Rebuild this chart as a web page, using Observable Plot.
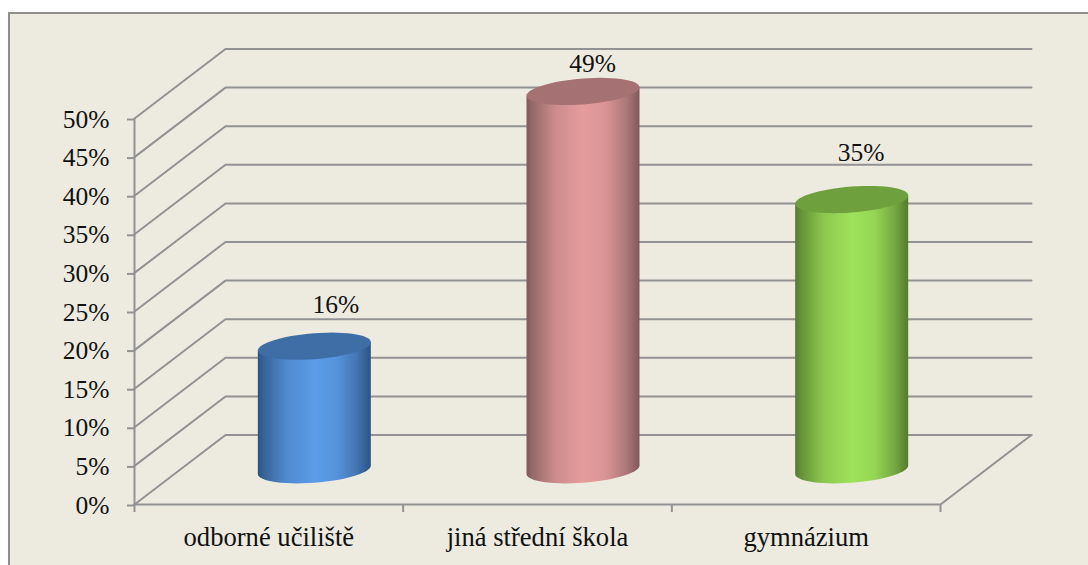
<!DOCTYPE html>
<html><head><meta charset="utf-8">
<script src="https://cdn.jsdelivr.net/npm/d3@7"></script>
<script src="https://cdn.jsdelivr.net/npm/@observablehq/plot@0.6"></script>
<style>
html,body{margin:0;padding:0;background:#fff;overflow:hidden}
#panel{position:absolute;left:8px;top:12px;width:1090px;height:570px;background:#edebe0;border:2px solid #8e8e8e;box-sizing:border-box}
#chart{position:absolute;left:0;top:0}
#chart svg{background:transparent;display:block;overflow:visible}
</style></head><body>
<div id="panel"></div><div id="chart"></div>
<script>
const categories = ["odborné učiliště", "jiná střední škola", "gymnázium"];
const values = [16, 49, 35];
const yTicks = [0, 5, 10, 15, 20, 25, 30, 35, 40, 45, 50];
const xTicks = [0, 1, 2, 3];

// oblique projection of the 3-D box: depth 0 = front edge, 1 = back wall
const depthX = 0.3387, depthY = 9;
const P = (c, v, d) => ({x: c + depthX * d, y: v + depthY * d});

const gradients = [
  {id: "g0", edge: "#2c5383", mid: "#5c9ce8", top: "#3f6ea6"},
  {id: "g1", edge: "#7f5a5b", mid: "#e69c9d", top: "#a67172"},
  {id: "g2", edge: "#557a2d", mid: "#9fe25b", top: "#6fa03e"}
];
const defs = () => {
  const d = d3.create("svg:defs");
  for (const g of gradients) {
    const lg = d.append("linearGradient").attr("id", g.id).attr("x1", 0).attr("x2", 1).attr("y1", 0).attr("y2", 0);
    const mix = d3.interpolateRgb(g.edge, g.mid);
    [[0, 0], [.05, .22], [.25, .74], [.5, 1], [.7, .88], [.88, .45], [1, 0]].forEach(([o, t]) =>
      lg.append("stop").attr("offset", o).attr("stop-color", mix(t)));
  }
  return d.node();
};

// tilted ellipse of a cylinder, in chart units
const halfW = 0.2103, shear = 0.544, minor = 1.68;
const degrees = d3.range(0, 361, 6);
const rim = (c, v, deg) => {
  const t = deg * Math.PI / 180, p = P(c, v, 0.5);
  return {x: p.x + halfW * Math.cos(t), y: p.y + shear * Math.cos(t) + minor * Math.sin(t)};
};
const bodyPath = (c, v) => [
  ...degrees.filter(d => d >= 180).map(d => rim(c, 0, d)),
  rim(c, v, 0), rim(c, v, 180)
];
const gridLine = v => [P(0, v, 0), P(0, v, 1), P(3, v, 1)];
const floorEdge = [P(0, 0, 0), P(3, 0, 0), P(3, 0, 1)];

const gridStyle = {x: "x", y: "y", stroke: "#929292", strokeWidth: 2, strokeLinejoin: "miter"};

const plot = Plot.plot({
  width: 1088, height: 565,
  marginLeft: 134, marginRight: 148, marginTop: 118, marginBottom: 61,
  x: {domain: [0, 3]},
  y: {domain: [0, 50]},
  style: {fontFamily: "'Liberation Serif'", background: "transparent", overflow: "visible"},
  marks: [
    defs,
    ...yTicks.map(v => Plot.line(gridLine(v), gridStyle)),
    Plot.line(floorEdge, gridStyle),
    Plot.ruleX([0], {y1: 0, y2: 50, stroke: "#929292", strokeWidth: 2}),
    Plot.axisY(yTicks, {anchor: "left", label: null, tickSize: 7, tickPadding: 18, stroke: "#929292", strokeWidth: 2, fill: "#111", fontSize: 25.5, tickFormat: d => d + "%", dy: 1}),
    Plot.axisX(xTicks, {anchor: "bottom", label: null, tickSize: 8, stroke: "#929292", strokeWidth: 2, tickFormat: () => ""}),
    ...values.flatMap((v, i) => [
      Plot.line(bodyPath(i + 0.5, v), {x: "x", y: "y", fill: `url(#g${i})`, stroke: "none", curve: "linear-closed"}),
      Plot.line(degrees.map(d => rim(i + 0.5, v, d)), {x: "x", y: "y", fill: gradients[i].top, stroke: "none", curve: "linear-closed"})
    ]),
    Plot.text(categories, {x: (d, i) => i + 0.5, y: () => 0, text: d => d, dy: 33, fontSize: 26.6, fill: "#111"}),
    Plot.text([values[0]], {x: () => 0.5, y: d => d, text: d => d + "%", dx: 67, dy: -76, fontSize: 25.5, fill: "#111"}),
    Plot.text([values[1]], {x: () => 1.5, y: d => d, text: d => d + "%", dx: 55, dy: -62, fontSize: 25.5, fill: "#111"}),
    Plot.text([values[2]], {x: () => 2.5, y: d => d, text: d => d + "%", dx: 55, dy: -81, fontSize: 25.5, fill: "#111"})
  ]
});
document.getElementById("chart").appendChild(plot);
</script>
</body></html>
